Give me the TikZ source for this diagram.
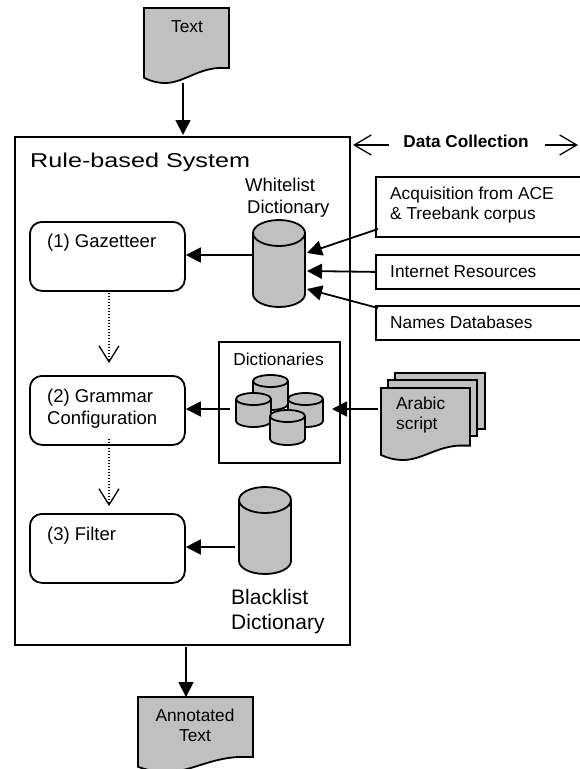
\documentclass[tikz,border=0pt]{standalone}
\usepackage{fontspec}
\setmainfont{Liberation Sans}
\newfontfamily\widefont[FakeStretch=1.26]{Liberation Sans}
\usetikzlibrary{arrows.meta}
\definecolor{docgray}{RGB}{192,192,192}
\tikzset{
  ln/.style={line width=1.8pt,black},
  solidarr/.style={ln,-{Triangle[length=15pt,width=15pt]}},
  openarr/.style={line width=1.3pt,black,-{Straight Barb[length=17pt,width=20pt,line width=1.3pt]}},
  dotarr/.style={line width=1.3pt,black,dash pattern=on 1.4pt off 1.6pt,-{Straight Barb[length=16pt,width=20pt,line width=1.3pt]}},
  rbox/.style={draw,ln,rounded corners=12pt,anchor=north west,minimum width=155pt,minimum height=69pt,inner sep=0pt},
  sbox/.style={draw,ln,anchor=north west,inner sep=0pt},
  ghost/.style={anchor=north west,inner sep=0pt,outer sep=0pt},
  lbl/.style={inner sep=0pt,align=left,anchor=north west},
  lblc/.style={inner sep=0pt,align=center},
  fa/.style={font=\fontsize{17.3}{20}\selectfont},
  fb/.style={font=\fontsize{18.5}{22}\selectfont},
}
\newcommand{\docshape}[5]{%
  \node[ghost,minimum width=#4pt,minimum height=#5pt] (#1) at (#2,#3) {};
  \begin{scope}[shift={(#2,#3)},x=#4pt,y=-#5pt]
    \draw[ln,fill=docgray,line join=miter] (0,0) -- (1,0) -- (1,.8) -- (.87,.8)
      .. controls (.62,.82) and (.45,1) .. (.25,1)
      .. controls (.15,1) and (.07,.97) .. (0,.93) -- cycle;
  \end{scope}}
\newcommand{\cylshape}[6]{%
  \node[ghost,minimum width=#4pt,minimum height=#5pt] (#1) at (#2,#3) {};
  \begin{scope}[shift={(#2,#3)}]
    \draw[ln,fill=docgray] (0,#6) arc[start angle=180,end angle=360,x radius=#4/2,y radius=#6]
      -- (#4,#5-#6) arc[start angle=0,end angle=180,x radius=#4/2,y radius=#6] -- cycle;
    \draw[ln] (0,#6) arc[start angle=180,end angle=0,x radius=#4/2,y radius=#6];
  \end{scope}}
\begin{document}
\begin{tikzpicture}[x=1pt,y=-1pt]
\useasboundingbox (0,0) rectangle (580,769);
\clip (0,0) rectangle (580,769);
\node[sbox,minimum width=335pt,minimum height=508pt] (main) at (14,136) {};
\node[lbl,font=\widefont\fontsize{20}{22}\selectfont] (title) at (30,152.5) {Rule-based System};
\docshape{textdoc}{144}{8}{85}{75}
\node[lblc,fa] (textlbl) at (187,27) {Text};
\node[rbox] (gaz) at (29,221) {};
\node[lbl,fb] (gazl) at (47,234) {(1) Gazetteer};
\node[rbox] (gram) at (29,375) {};
\node[lbl,fb] (graml) at (47,389) {(2) Grammar\\Configuration};
\node[rbox] (filt) at (29,513) {};
\node[lbl,fb] (filtl) at (47,527) {(3) Filter};
\cylshape{wl}{253}{220}{52}{87}{13}
\node[lbl,fb] (wll) at (245,178) {Whitelist\\\hspace*{2pt}Dictionary};
\node[sbox,minimum width=215pt,minimum height=60pt] (acq) at (375,176) {};
\node[lbl,fa] (acql) at (390,187) {Acquisition from ACE\\\& Treebank corpus};
\node[sbox,minimum width=215pt,minimum height=34pt] (inet) at (375,254) {};
\node[lbl,fa] (inetl) at (390,265) {Internet Resources};
\node[sbox,minimum width=215pt,minimum height=34pt] (names) at (375,305) {};
\node[lbl,fa] (namesl) at (390,316) {Names Databases};
\node[sbox,minimum width=121pt,minimum height=121pt] (dicts) at (218,341) {};
\node[lblc,fa] (dictsl) at (278.5,359) {Dictionaries};
\cylshape{c1}{253}{375}{35}{35}{6}
\cylshape{c2}{288}{393}{35}{34}{6}
\cylshape{c3}{236}{393}{35}{34}{6}
\cylshape{c4}{270}{410}{35}{35}{6}
\docshape{a3}{395}{373}{90}{70}
\docshape{a2}{388}{380}{89}{70}
\docshape{a1}{381}{388}{89}{72}
\node[lbl,fa] (arl) at (396,397) {Arabic\\script};
\cylshape{bl}{239}{487}{52}{87}{13}
\node[lbl,font=\fontsize{21}{25}\selectfont] (bll) at (231,589) {Blacklist\\Dictionary};
\docshape{outdoc}{138}{697}{115}{75}
\node[lblc,fa] (outl) at (195,725) {Annotated\\Text};
\node[lblc,font=\bfseries\fontsize{17.2}{20}\selectfont] (dc) at (466,141) {Data Collection};
\coordinate (dcl) at (353,145);
\coordinate (dcr) at (578,145);
\coordinate (dcla) at (389,145);
\coordinate (dcra) at (545,145);
\draw[openarr] (dcla) -- (dcl);
\draw[openarr] (dcra) -- (dcr);
\coordinate (tout) at (183,83);
\coordinate (tin) at (183,135);
\draw[solidarr] (tout) -- (tin);
\coordinate (bin) at (186,647);
\draw[solidarr] (bin) -- (outdoc.north -| bin);
\coordinate (wlo) at (253,255);
\draw[solidarr] (wlo) -- (gaz.east |- wlo);
\coordinate (wa) at (307,253);
\coordinate (wb) at (307,271);
\coordinate (wc) at (307,289);
\coordinate (aa) at (378,229);
\coordinate (nn) at (378,308);
\draw[solidarr] (aa) -- (wa);
\draw[solidarr] (inet.west) -- (wb);
\draw[solidarr] (nn) -- (wc);
\coordinate (dl) at (230,409);
\draw[solidarr] (dl) -- (gram.east |- dl);
\coordinate (ar) at (378,409);
\coordinate (dr) at (332,409);
\draw[solidarr] (ar) -- (dr);
\coordinate (bls) at (235,547);
\draw[solidarr] (bls) -- (filt.east |- bls);
\coordinate (d1) at (109,293);
\coordinate (d2) at (109,363);
\draw[dotarr] (d1) -- (d2);
\coordinate (d3) at (109,439);
\coordinate (d4) at (109,506);
\draw[dotarr] (d3) -- (d4);
\end{tikzpicture}
\end{document}
